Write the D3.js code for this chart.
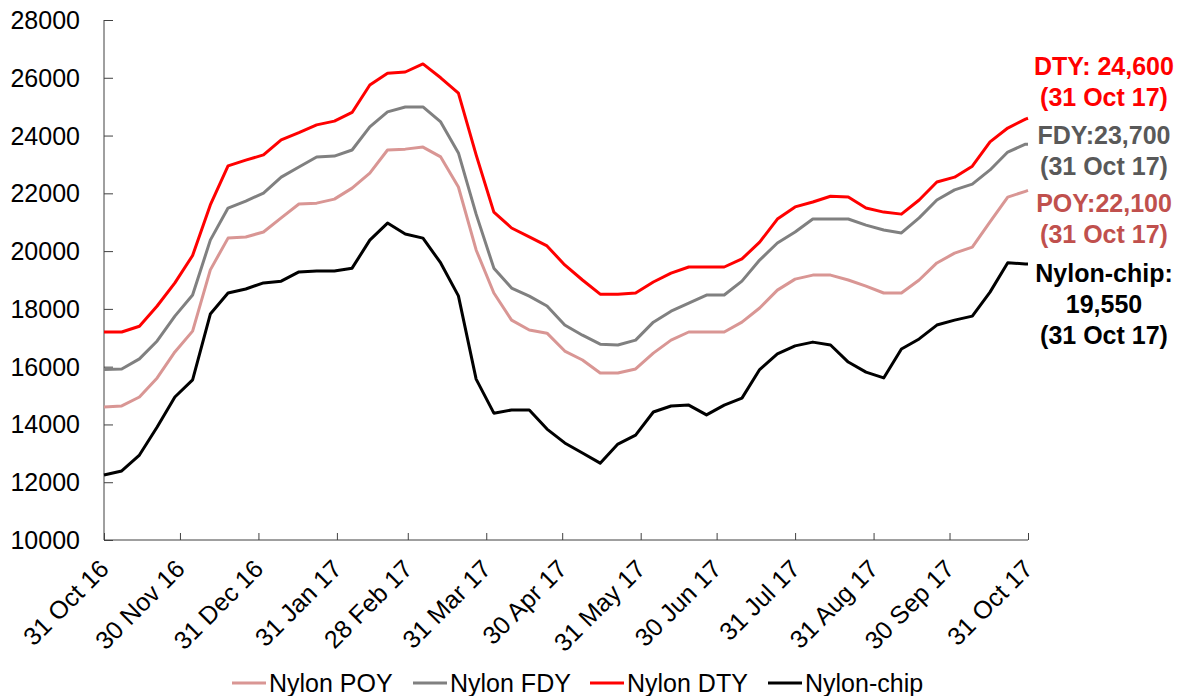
<!DOCTYPE html>
<html>
<head>
<meta charset="utf-8">
<script src="https://cdn.jsdelivr.net/npm/d3@7"></script>
<style>
  body { margin: 0; background: #fff; }
  svg { font-family: "Liberation Sans", Arial, sans-serif; }
</style>
</head>
<body>
<div id="chart"></div>
<script>
// weekly readings from 31 Oct 16, last point is 31 Oct 17
const startDate = new Date(2016, 9, 31);
const endDate = new Date(2017, 9, 31);

const poy = [14600,14640,14950,15610,16510,17230,19350,20450,20490,20660,21150,21630,21660,21800,22180,22700,23500,23530,23600,23260,22220,20040,18550,17610,17270,17160,16540,16230,15780,15780,15920,16470,16920,17200,17200,17200,17540,18030,18650,19030,19170,19170,19000,18790,18550,18550,19000,19590,19930,20140,21010,21870,22070,22100];
const fdy = [15900,15920,16270,16890,17750,18480,20380,21490,21730,22010,22560,22910,23260,23290,23500,24300,24820,24990,24990,24470,23400,21280,19410,18720,18440,18100,17440,17090,16780,16750,16920,17540,17920,18200,18480,18480,18960,19690,20280,20660,21110,21110,21110,20900,20730,20630,21150,21770,22120,22320,22810,23430,23700,23700];
const dty = [17200,17200,17400,18100,18900,19850,21600,22950,23150,23330,23850,24100,24370,24500,24800,25750,26160,26200,26480,26000,25470,23330,21350,20800,20490,20180,19520,19000,18510,18510,18550,18930,19240,19450,19450,19450,19730,20310,21110,21530,21700,21900,21870,21490,21350,21280,21770,22390,22560,22940,23780,24260,24570,24600];
const chip = [12250,12390,12940,13910,14950,15540,17820,18550,18690,18900,18960,19280,19310,19310,19410,20380,20970,20590,20450,19590,18450,15570,14390,14500,14500,13840,13360,13010,12660,13320,13630,14430,14640,14670,14330,14670,14910,15900,16440,16720,16850,16750,16160,15810,15610,16610,16960,17440,17610,17750,18580,19600,19550,19550];

const seriesNames = ["Nylon POY", "Nylon FDY", "Nylon DTY", "Nylon-chip"];
const seriesColors = ["#d99694", "#808080", "#ff0000", "#000000"];
const seriesValues = [poy, fdy, dty, chip];

const yTicks = [10000, 12000, 14000, 16000, 18000, 20000, 22000, 24000, 26000, 28000];
const xTickDates = ["2016-10-31","2016-11-30","2016-12-31","2017-01-31","2017-02-28","2017-03-31",
  "2017-04-30","2017-05-31","2017-06-30","2017-07-31","2017-08-31","2017-09-30","2017-10-31"];

const notes = [
  { lines: ["DTY: 24,600", "(31 Oct 17)"], color: "#ff0000", y: 66 },
  { lines: ["FDY:23,700", "(31 Oct 17)"], color: "#595959", y: 135 },
  { lines: ["POY:22,100", "(31 Oct 17)"], color: "#c0504d", y: 203 },
  { lines: ["Nylon-chip:", "19,550", "(31 Oct 17)"], color: "#000000", y: 273 }
];

const width = 1181, height = 696;
const margin = { left: 104, right: 153, top: 20, bottom: 156 };
const fontSize = 25;

const dates = poy.map(function (d, i) {
  return i < poy.length - 1 ? d3.timeDay.offset(startDate, 7 * i) : endDate;
});

const svg = d3.select("#chart").append("svg")
  .attr("width", width)
  .attr("height", height);

const x = d3.scaleTime()
  .domain([startDate, endDate])
  .range([margin.left, width - margin.right]);

const y = d3.scaleLinear()
  .domain([10000, 28000])
  .range([height - margin.bottom, margin.top]);

// y axis, ticks pointing inward
const yAxis = svg.append("g")
  .attr("transform", "translate(" + margin.left + ",0)")
  .call(d3.axisRight(y).tickValues(yTicks).tickSize(9).tickFormat(""));
yAxis.select(".domain").attr("stroke", "#404040").attr("d", "M0," + y(10000) + "V" + y(28000));
yAxis.selectAll(".tick line").attr("stroke", "#404040");

svg.append("g").selectAll("text")
  .data(yTicks)
  .enter()
  .append("text")
  .attr("x", 80)
  .attr("y", function (d) { return y(d); })
  .attr("dy", "0.36em")
  .attr("text-anchor", "end")
  .attr("font-size", fontSize)
  .attr("fill", "#000")
  .text(function (d) { return d; });

// x axis
const parse = d3.timeParse("%Y-%m-%d");
const tickDates = xTickDates.map(parse);
const fmt = d3.timeFormat("%d %b %y");

const xAxis = svg.append("g")
  .attr("transform", "translate(0," + y(10000) + ")")
  .call(d3.axisTop(x).tickValues(tickDates).tickSize(7).tickFormat(""));
xAxis.select(".domain").attr("stroke", "#404040").attr("d", "M" + x(startDate) + ",0H" + x(endDate));
xAxis.selectAll(".tick line").attr("stroke", "#404040");

svg.append("g").selectAll("text")
  .data(tickDates)
  .enter()
  .append("text")
  .attr("transform", function (d) {
    return "translate(" + (x(d) - 6) + "," + (y(10000) + 18) + ") rotate(-45)";
  })
  .attr("text-anchor", "end")
  .attr("dy", "0.7em")
  .attr("font-size", fontSize)
  .attr("fill", "#000")
  .text(function (d) { return fmt(d); });

// lines
const line = d3.line()
  .x(function (d) { return x(d.date); })
  .y(function (d) { return y(d.value); });

seriesValues.forEach(function (vals, k) {
  const pts = vals.map(function (v, i) { return { date: dates[i], value: v }; });
  svg.append("path")
    .datum(pts)
    .attr("fill", "none")
    .attr("stroke", seriesColors[k])
    .attr("stroke-width", 3)
    .attr("stroke-linejoin", "round")
    .attr("d", line);
});

// end-of-line notes
notes.forEach(function (n) {
  n.lines.forEach(function (t, i) {
    svg.append("text")
      .attr("x", 1104)
      .attr("y", n.y + i * 31)
      .attr("dy", "0.36em")
      .attr("text-anchor", "middle")
      .attr("font-size", fontSize)
      .attr("font-weight", "bold")
      .attr("fill", n.color)
      .text(t);
  });
});

// legend
const legendX = [232, 413, 590, 768];
const legend = svg.append("g");
seriesNames.forEach(function (name, k) {
  legend.append("line")
    .attr("x1", legendX[k])
    .attr("x2", legendX[k] + 34)
    .attr("y1", 683)
    .attr("y2", 683)
    .attr("stroke", seriesColors[k])
    .attr("stroke-width", 3);
  legend.append("text")
    .attr("x", legendX[k] + 37)
    .attr("y", 683)
    .attr("dy", "0.36em")
    .attr("font-size", fontSize)
    .attr("fill", "#000")
    .text(name);
});
</script>
</body>
</html>
